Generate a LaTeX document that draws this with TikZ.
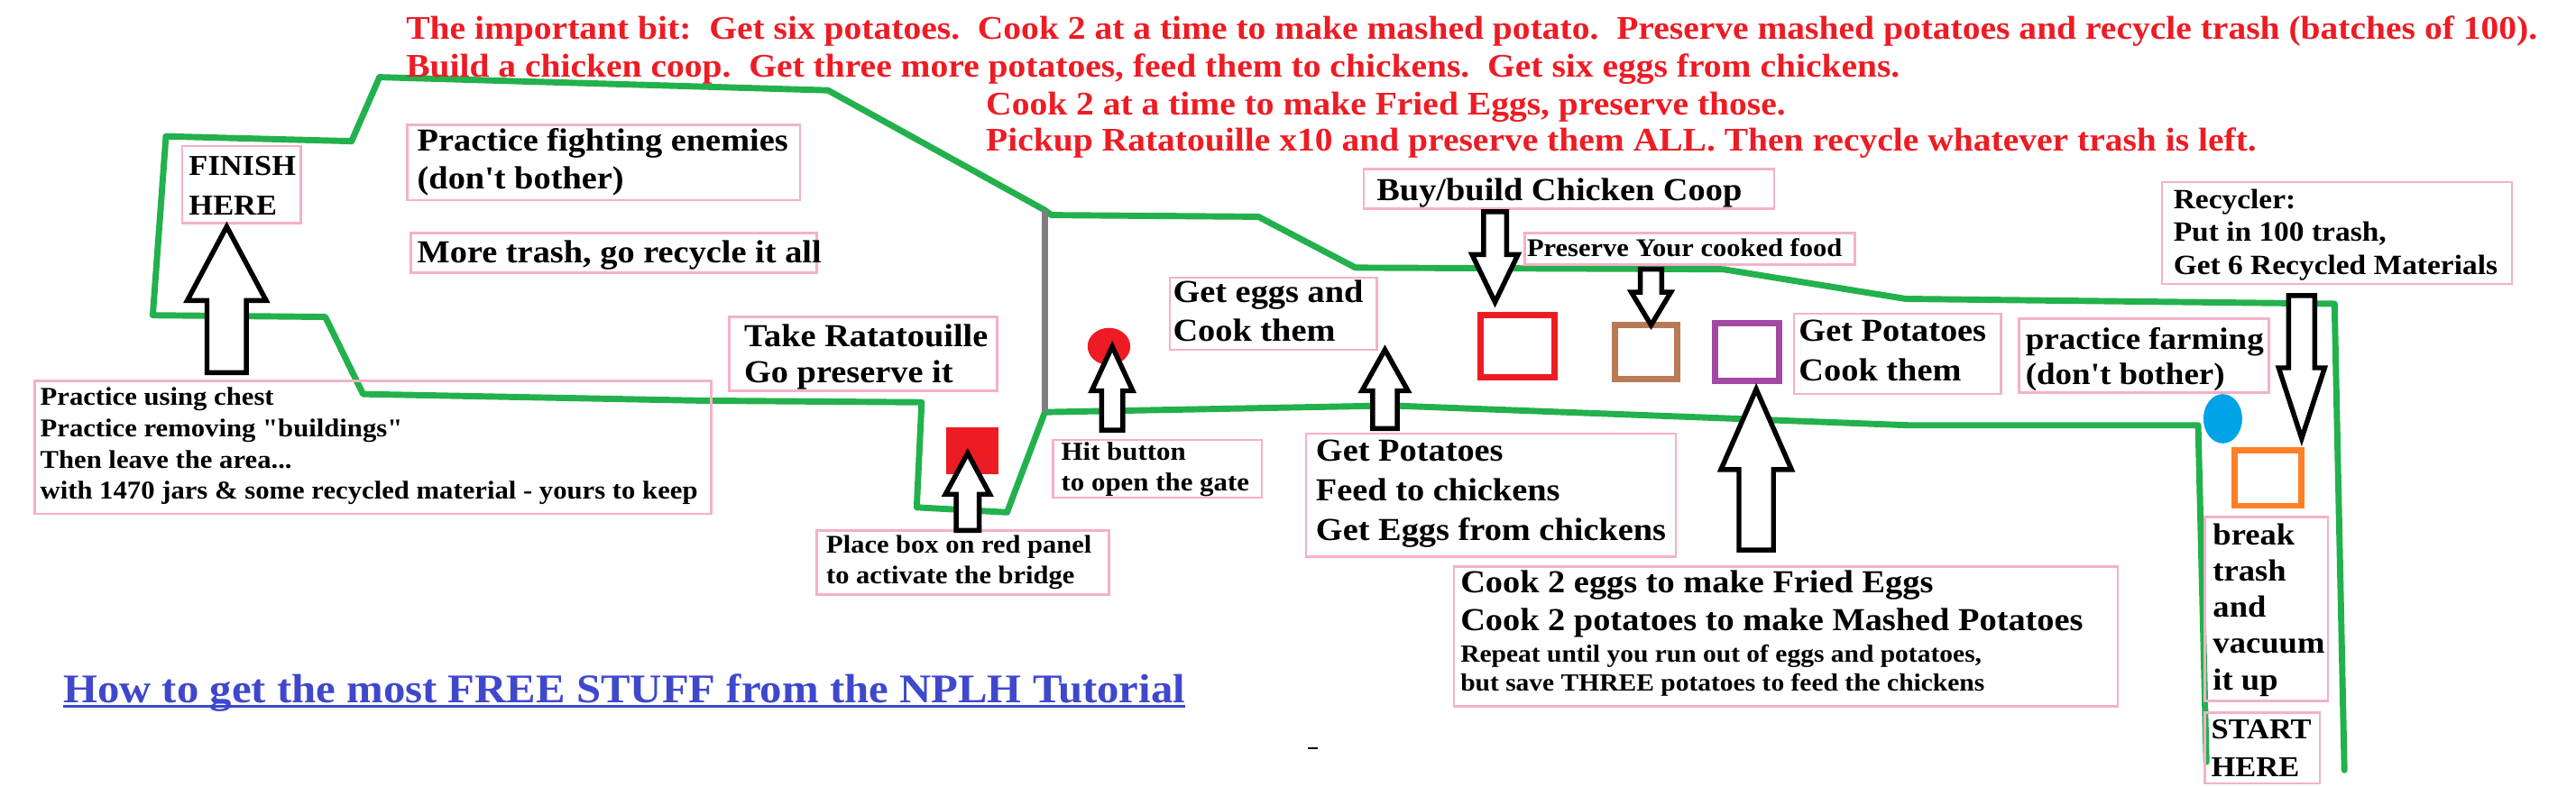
\documentclass[tikz,border=0pt]{standalone}
\usepackage{fontspec}
\setmainfont{Liberation Serif}[FakeStretch=1.08, Ligatures=TeXOff]
\definecolor{pathgreen}{RGB}{34,177,76}
\definecolor{pinkc}{RGB}{245,176,202}
\definecolor{redc}{RGB}{237,28,36}
\definecolor{titleblue}{RGB}{63,72,204}
\definecolor{gatec}{RGB}{127,127,127}
\definecolor{bluec}{RGB}{0,162,232}
\definecolor{orangec}{RGB}{255,127,39}
\definecolor{brownc}{RGB}{185,122,87}
\definecolor{purplec}{RGB}{163,73,164}
\newcommand\fsz[2]{\bfseries\fontsize{#1}{#2}\selectfont}
\tikzset{
  pbox/.style={draw=pinkc, line width=1.4pt, anchor=north west, inner sep=0pt, outer sep=0pt},
  btext/.style={anchor=base west, inner sep=0pt, outer sep=0pt},
  walk/.style={draw=pathgreen, line width=3.8pt, line join=round, line cap=round},
  gate/.style={draw=gatec, line width=3.6pt},
  barrow/.style={draw=black, fill=white, line width=3pt, line join=miter},
  redtext/.style={text=redc, anchor=base west, inner sep=0pt, font=\fsz{20.1}{23}},
  outlinesq/.style={line width=3.8pt}
}
\newcommand\pinkbox[5]{\node[pbox, minimum width={#4pt-#2pt}, minimum height={#5pt-#3pt}] (#1) at (#2,#3) {};}
\newcommand\boxtext[5]{\node[btext, font=#4] (#1) at (#2,#3) {\begin{tabular}[t]{@{}l@{}}#5\end{tabular}};}
\newcommand\blockarrow[6]{\draw[barrow] (#1,#2) -- (#1+#4,#3) -- (#1+#5,#3) -- (#1+#5,#6) -- (#1-#5,#6) -- (#1-#5,#3) -- (#1-#4,#3) -- cycle;}
\begin{document}
\begin{tikzpicture}[x=1pt,y=-1pt]
\path[use as bounding box, fill=white] (0,0) rectangle (1568,479);
% the walkway
\draw[walk] (1343,464) -- (1338,259) -- (1162,259) -- (847,247) -- (636,251) -- (613,312) -- (558,309) -- (561,245) -- (428,244) -- (221,240) -- (198,193) -- (93,192) -- (101,83) -- (214,86) -- (231,47) -- (504,55) -- (636,128) -- (640,131) -- (766,132) -- (825,163) -- (1049,164) -- (1160,182) -- (1421,185) -- (1427,469);
\draw[gate] (636,128) -- (636,251);
% objects
\fill[redc] (576,260) rectangle (608,289);
\fill[redc] (675,211) ellipse [x radius=13, y radius=11.3];
\fill[bluec] (1353,255) ellipse [x radius=11.8, y radius=15];
\draw[outlinesq, redc] (901,192) rectangle (946,230);
\draw[outlinesq, brownc] (983,198) rectangle (1021,231);
\draw[outlinesq, purplec] (1044,197) rectangle (1083,232);
\draw[outlinesq, orangec] (1360,274) rectangle (1401,308);
% red instructions
\node[redtext] (red1) at (247,24) {The important bit:\ \ Get six potatoes.\ \ Cook 2 at a time to make mashed potato.\ \ Preserve mashed potatoes and recycle trash (batches of 100).};
\node[redtext] (red2) at (247,47) {Build a chicken coop.\ \ Get three more potatoes, feed them to chickens.\ \ Get six eggs from chickens.};
\node[redtext] (red3) at (600,70) {Cook 2 at a time to make Fried Eggs, preserve those.};
\node[redtext] (red4) at (600,92) {Pickup Ratatouille x10 and preserve them ALL. Then recycle whatever trash is left.};
% boxes
\pinkbox{finish}{111}{89}{183}{136}
\boxtext{finish-t}{115}{107}{\fsz{17.5}{24}}{FINISH\\HERE}
\pinkbox{fight}{248}{76}{487}{122}
\boxtext{fight-t}{254}{92}{\fsz{19.5}{23}}{Practice fighting enemies\\(don't bother)}
\pinkbox{trash}{250}{142}{497}{166}
\boxtext{trash-t}{254}{160}{\fsz{19.5}{23}}{More trash, go recycle it all}
\pinkbox{rat}{444}{193}{607}{238}
\boxtext{rat-t}{453}{211}{\fsz{19.5}{22}}{Take Ratatouille\\Go preserve it}
\pinkbox{chest}{21}{232}{433}{313}
\boxtext{chest-t}{24.5}{247}{\fsz{15.6}{19}}{Practice using chest\\Practice removing "buildings"\\Then leave the area...\\with 1470 jars \& some recycled material - yours to keep}
\pinkbox{place}{497}{323}{675}{362}
\boxtext{place-t}{503}{337}{\fsz{15.5}{18.5}}{Place box on red panel\\to activate the bridge}
\pinkbox{hit}{641}{268}{768}{303}
\boxtext{hit-t}{646}{280}{\fsz{15.7}{19}}{Hit button\\to open the gate}
\pinkbox{eggs}{712}{169}{838}{213}
\boxtext{eggs-t}{714}{184}{\fsz{19.5}{24}}{Get eggs and\\Cook them}
\pinkbox{getpot}{795}{264}{1020}{339}
\boxtext{getpot-t}{801}{281}{\fsz{19.5}{24}}{Get Potatoes\\Feed to chickens\\Get Eggs from chickens}
\pinkbox{buy}{830}{103}{1080}{127}
\boxtext{buy-t}{838}{122}{\fsz{19.5}{24}}{Buy/build Chicken Coop}
\pinkbox{preserve}{928}{142}{1129}{161}
\boxtext{preserve-t}{929.5}{156}{\fsz{15.5}{18}}{Preserve Your cooked food}
\pinkbox{potcook}{1092}{191}{1218}{240}
\boxtext{potcook-t}{1095}{208}{\fsz{19.5}{24}}{Get Potatoes\\Cook them}
\pinkbox{farm}{1229}{194}{1381}{239}
\boxtext{farm-t}{1233}{213}{\fsz{18.8}{21}}{practice farming\\(don't bother)}
\pinkbox{recycler}{1316}{111}{1529}{173}
\boxtext{recycler-t}{1323}{127}{\fsz{17}{20}}{Recycler:\\Put in 100 trash,\\Get 6 Recycled Materials}
\pinkbox{breakbox}{1342}{315}{1417}{427}
\boxtext{breakbox-t}{1347}{332}{\fsz{18.6}{22}}{break\\trash\\and\\vacuum\\it up}
\pinkbox{startbox}{1342}{434}{1412}{477}
\boxtext{startbox-t}{1346}{450}{\fsz{17.5}{23}}{START\\HERE}
\pinkbox{cook}{885}{345}{1289}{430}
\boxtext{cook-a}{889}{361}{\fsz{19.5}{23}}{Cook 2 eggs to make Fried Eggs\\Cook 2 potatoes to make Mashed Potatoes}
\boxtext{cook-b}{889}{403}{\fsz{15}{18}}{Repeat until you run out of eggs and potatoes,\\but save THREE potatoes to feed the chickens}
% block arrows
\blockarrow{138}{138}{183}{24}{12}{227}
\blockarrow{589}{276}{301}{13.5}{7}{323}
\blockarrow{677}{211}{238}{12.5}{6.5}{262}
\blockarrow{843}{213}{238}{14}{7.5}{261}
\blockarrow{910}{184}{155}{14}{7}{129}
\blockarrow{1005}{198}{178}{12}{6.5}{164}
\blockarrow{1069}{237}{286}{21.5}{10.5}{335}
\blockarrow{1401}{267}{224}{14}{8}{180}
% title
\node[btext, text=titleblue, font=\fsz{24.8}{30}] (title) at (38.5,428) {How to get the most FREE STUFF from the NPLH Tutorial};
\draw[titleblue, line width=1.8pt] ([yshift=-2.2pt]title.base west) -- ([yshift=-2.2pt]title.base east);
\draw[line width=1pt] (796,455.5) -- (802,455.5);
\end{tikzpicture}
\end{document}
